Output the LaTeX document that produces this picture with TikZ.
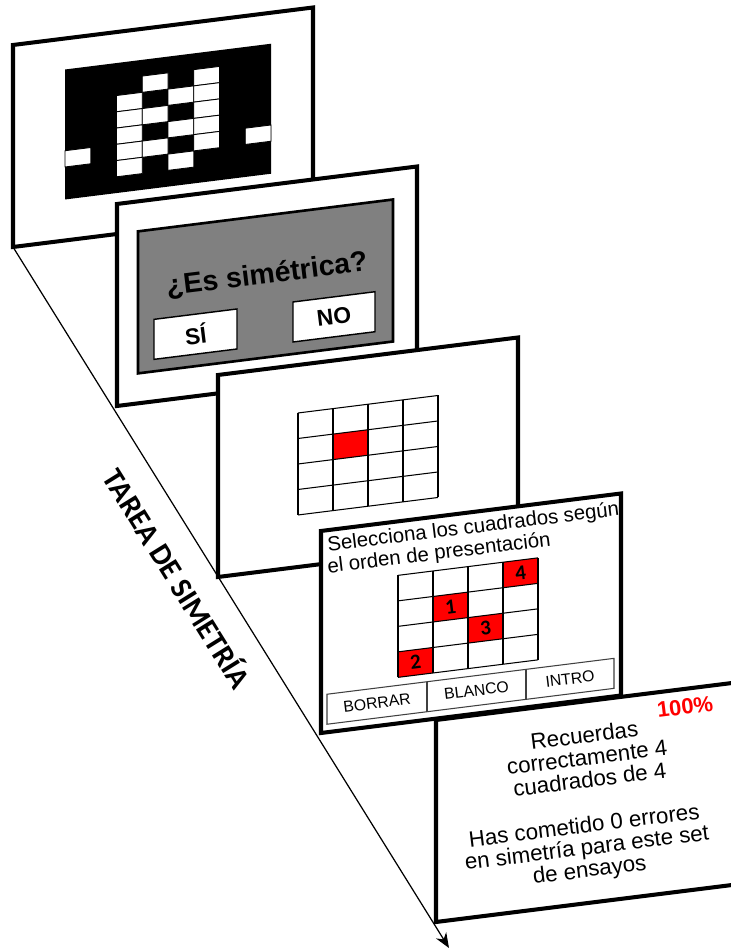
\documentclass[tikz,border=0pt]{standalone}
\usepackage{fontspec}
\setmainfont{Liberation Sans}
\newfontfamily\calibri{Carlito}
\usetikzlibrary{arrows.meta}

\begin{document}
\begin{tikzpicture}[x=0.2mm,y=0.2mm,
    screen/.style={draw=black,fill=white,line width=2.3pt},
    patcell/.style={draw=black,fill=white,line width=0.5pt},
    gridline/.style={draw=black,line width=0.6pt},
    button/.style={draw=black,fill=white,line width=0.8pt},
    barline/.style={draw=black!75,line width=0.6pt},
    tilt/.style={rotate=7,inner sep=0pt}]

  \useasboundingbox (0,0) rectangle (730,950);

  % time axis
  \coordinate (start) at (13,703);
  \coordinate (tip) at (449,2);
  \draw[line width=0.7pt,-{Stealth[length=3mm,width=2.4mm]}] (start) -- (tip);

  \node[font=\calibri\bfseries\fontsize{17.3}{20}\selectfont,rotate=-58.1]
    (task) at (179,372) {TAREA DE SIMETRÍA};

  % screen 1: pattern
  \begin{scope}[shift={(13,703)},yslant=0.125]
    \draw[screen] (0,0) rectangle (300,202);
    \fill[black] (52,41) rectangle (258,171);
    \foreach \c/\r in {0/5,2/2,2/3,2/4,2/5,2/6,3/1,3/3,3/5,
                       4/2,4/4,4/6,5/1,5/2,5/3,5/4,5/5,7/5}{
      \draw[patcell] (52+25.75*\c,171-16.25*\r) rectangle ++(25.75,-16.25);
    }
  \end{scope}

  % screen 2: question
  \begin{scope}[shift={(117,544)},yslant=0.125]
    \draw[screen] (0,0) rectangle (300,202);
    \draw[fill=gray,line width=1.5pt] (21,30) rectangle (276,172);
    \draw[button] (37,42) rectangle (120,82);
    \draw[button] (176,42) rectangle (258,82);
    \node[tilt,text=black,font=\bfseries\fontsize{16.2}{19}\selectfont]
      (question) at (150,112) {¿Es simétrica?};
    \node[tilt,font=\bfseries\fontsize{13}{15}\selectfont] (yes) at (78.5,62) {SÍ};
    \node[tilt,font=\bfseries\fontsize{13}{15}\selectfont] (no) at (217,62) {NO};
  \end{scope}

  % screen 3: one square
  \begin{scope}[shift={(218,373)},yslant=0.125]
    \draw[screen] (0,0) rectangle (300,202);
    \fill[red] (115,103) rectangle ++(35,25.5);
    \foreach \i in {0,...,4}{
      \draw[gridline] (80+35*\i,52) -- ++(0,102);
      \draw[gridline] (80,52+25.5*\i) -- ++(140,0);
    }
  \end{scope}

  % screen 4: recall
  \begin{scope}[shift={(321,217)},yslant=0.125]
    \draw[screen] (0,0) rectangle (300,202);
    \node[tilt,anchor=base west,font=\fontsize{11.6}{13}\selectfont]
      (sel1) at (7,181) {Selecciona los cuadrados según};
    \node[tilt,anchor=base west,font=\fontsize{11.6}{13}\selectfont]
      (sel2) at (7,159) {el orden de presentación};
    \foreach \c/\r/\n in {3/0/4,1/1/1,2/2/3,0/3/2}{
      \fill[red] (77+35*\c,148-25.5*\r) rectangle ++(35,-25.5);
      \node[tilt,font=\calibri\bfseries\fontsize{12}{14}\selectfont]
        (num\n) at (94.5+35*\c,135.25-25.5*\r) {\n};
    }
    \foreach \i in {0,...,4}{
      \draw[gridline] (77+35*\i,46) -- ++(0,102);
      \draw[gridline] (77,46+25.5*\i) -- ++(140,0);
    }
    \draw[barline] (6,8) rectangle (293,38);
    \draw[barline] (106,8) -- (106,38);
    \draw[barline] (205,8) -- (205,38);
    \node[tilt,font=\fontsize{9}{11}\selectfont] (erase) at (56,23) {BORRAR};
    \node[tilt,font=\fontsize{9}{11}\selectfont] (blank) at (155.5,23) {BLANCO};
    \node[tilt,font=\fontsize{9}{11}\selectfont] (enter) at (249,23) {INTRO};
  \end{scope}

  % screen 5: feedback
  \begin{scope}[shift={(436,28)},yslant=0.125]
    \draw[screen] (0,0) rectangle (300,202);
    \node[tilt,text=red,font=\bfseries\fontsize{12.5}{15}\selectfont]
      (score) at (249,184) {100\%};
    \node[tilt,align=center,font=\fontsize{12.7}{12.6}\selectfont]
      (recall) at (151,146) {Recuerdas\\correctamente 4\\cuadrados de 4};
    \node[tilt,align=center,font=\fontsize{12.7}{12.6}\selectfont]
      (errors) at (151,54) {Has cometido 0 errores\\en simetría para este set\\de ensayos};
  \end{scope}

\end{tikzpicture}
\end{document}
